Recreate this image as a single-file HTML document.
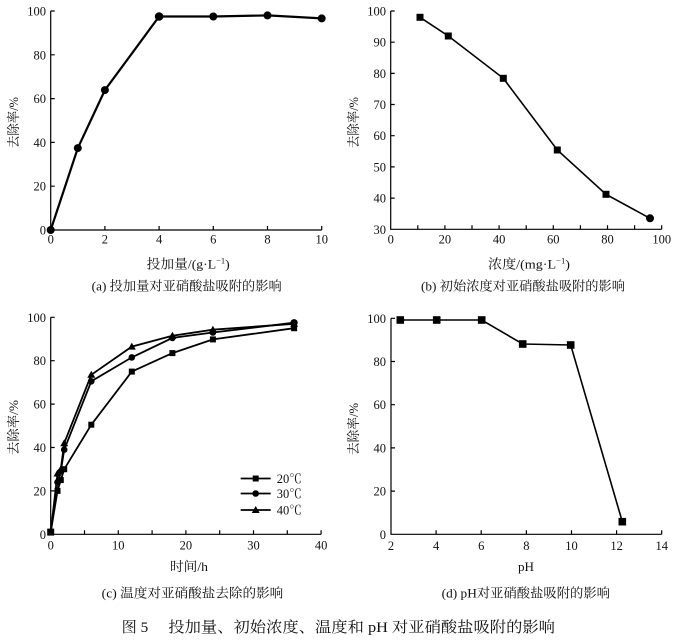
<!DOCTYPE html>
<html><head><meta charset="utf-8"><style>
html,body{margin:0;padding:0;background:#fff;}
svg{display:block;}
text{font-family:"Liberation Serif","Noto Serif CJK SC",serif;fill:#111;}
</style></head><body>
<svg width="683" height="641" viewBox="0 0 683 641" xmlns="http://www.w3.org/2000/svg">
<g stroke="#000" stroke-width="1.2" fill="none">
<!-- (a) axes -->
<path d="M50.7 11 V230 H321.7"/>
<path d="M50.7 186.2h4M50.7 142.4h4M50.7 98.6h4M50.7 54.8h4M50.7 11h4"/>
<path d="M104.9 230v-4M159.1 230v-4M213.3 230v-4M267.5 230v-4M321.7 230v-4"/>
<!-- (b) axes -->
<path d="M390.7 11 V229.3 H661.7"/>
<path d="M390.7 198.1h4M390.7 166.9h4M390.7 135.7h4M390.7 104.5h4M390.7 73.4h4M390.7 42.2h4M390.7 11h4"/>
<path d="M417.8 229.3v-4M444.9 229.3v-4M472 229.3v-4M499.1 229.3v-4M526.2 229.3v-4M553.3 229.3v-4M580.4 229.3v-4M607.5 229.3v-4M634.6 229.3v-4M661.7 229.3v-4"/>
<!-- (c) axes -->
<path d="M50.7 317.3 V534.3 H321.1"/>
<path d="M50.7 490.9h4M50.7 447.5h4M50.7 404.1h4M50.7 360.7h4M50.7 317.3h4"/>
<path d="M84.5 534.3v-4M118.3 534.3v-4M152.1 534.3v-4M185.9 534.3v-4M219.7 534.3v-4M253.5 534.3v-4M287.3 534.3v-4M321.1 534.3v-4"/>
<!-- (d) axes -->
<path d="M391 318.3 V534.3 H661.7"/>
<path d="M391 491.1h4M391 447.9h4M391 404.7h4M391 361.5h4M391 318.3h4"/>
<path d="M436.1 534.3v-4M481.2 534.3v-4M526.4 534.3v-4M571.5 534.3v-4M616.6 534.3v-4M661.7 534.3v-4"/>
</g>

<!-- (a) data -->
<polyline fill="none" stroke="#000" stroke-width="2.2" points="50.7,230 77.8,148.1 104.9,90.1 159.1,16.5 213.3,16.5 267.5,15.4 321.7,18.4"/>
<g fill="#000">
<circle cx="50.7" cy="230" r="4"/><circle cx="77.8" cy="148.1" r="4"/><circle cx="104.9" cy="90.1" r="4"/><circle cx="159.1" cy="16.5" r="4.3"/><circle cx="213.3" cy="16.5" r="4"/><circle cx="267.5" cy="15.4" r="4"/><circle cx="321.7" cy="18.4" r="4"/>
</g>

<!-- (b) data -->
<polyline fill="none" stroke="#000" stroke-width="1.6" points="420,17.3 448.3,36 503.3,78.3 557.3,150 606,194.3 650,218.3"/>
<g fill="#000">
<rect x="416.5" y="13.8" width="7" height="7"/><rect x="444.8" y="32.5" width="7" height="7"/><rect x="499.8" y="74.8" width="7" height="7"/><rect x="553.8" y="146.5" width="7" height="7"/><rect x="602.5" y="190.8" width="7" height="7"/><circle cx="650" cy="218.3" r="4"/>
</g>

<!-- (c) data -->
<g fill="none" stroke="#000" stroke-width="1.8">
<polyline points="50.7,532.1 57.5,490.9 60.8,480.1 64.2,469.2 91.3,424.7 131.8,371.6 172.4,353.1 212.9,339.4 294.1,328.2"/>
<polyline points="50.7,532.1 57.5,482.2 60.8,471.4 64.2,449.7 91.3,381.3 131.8,357.4 172.4,337.9 212.9,332.5 294.1,322.7"/>
<polyline points="50.7,532.1 57.5,473.5 60.8,469.2 64.2,443.2 91.3,374.8 131.8,346.6 172.4,335.7 212.9,329.7 294.1,323.8"/>
</g>
<g fill="#000">
<rect x="47.2" y="528.6" width="7" height="7"/>
<rect x="54.5" y="487.9" width="6" height="6"/><rect x="57.8" y="477.1" width="6" height="6"/><rect x="61.2" y="466.2" width="6" height="6"/><rect x="88.3" y="421.7" width="6" height="6"/><rect x="128.8" y="368.6" width="6" height="6"/><rect x="169.4" y="350.1" width="6" height="6"/><rect x="209.9" y="336.4" width="6" height="6"/><rect x="291.1" y="325.2" width="6" height="6"/>
<circle cx="57.5" cy="482.2" r="3.3"/><circle cx="60.8" cy="471.4" r="3.3"/><circle cx="64.2" cy="449.7" r="3.3"/><circle cx="91.3" cy="381.3" r="3.3"/><circle cx="131.8" cy="357.4" r="3.3"/><circle cx="172.4" cy="337.9" r="3.3"/><circle cx="212.9" cy="332.5" r="3.3"/><circle cx="294.1" cy="322.7" r="3.6"/>
<path d="M57.5 469.5l4 7h-8z"/><path d="M60.8 465.2l4 7h-8z"/><path d="M64.2 439.2l4 7h-8z"/><path d="M91.3 370.8l4 7h-8z"/><path d="M131.8 342.6l4 7h-8z"/><path d="M172.4 331.7l4 7h-8z"/><path d="M212.9 325.7l4 7h-8z"/><path d="M294.1 319.8l4 7h-8z"/>
</g>
<!-- legend -->
<g stroke="#000" stroke-width="1.8">
<line x1="240.7" y1="478.5" x2="270.7" y2="478.5"/>
<line x1="240.7" y1="493.5" x2="270.7" y2="493.5"/>
<line x1="240.7" y1="510" x2="270.7" y2="510"/>
</g>
<g fill="#000">
<rect x="252.7" y="475.5" width="6" height="6"/>
<circle cx="255.7" cy="493.5" r="3.3"/>
<path d="M255.7 506l4 7h-8z"/>
</g>
<g font-size="12.5">
<text x="276.7" y="483">20℃</text>
<text x="276.7" y="498">30℃</text>
<text x="276.7" y="514.5">40℃</text>
</g>

<!-- (d) data -->
<polyline fill="none" stroke="#000" stroke-width="1.6" points="400.3,320 436.7,320 481.7,320 522.7,344 570.7,345 622.3,521.7"/>
<g fill="#000">
<rect x="396.5" y="316.2" width="7.6" height="7.6"/><rect x="432.9" y="316.2" width="7.6" height="7.6"/><rect x="477.9" y="316.2" width="7.6" height="7.6"/><rect x="518.9" y="340.2" width="7.6" height="7.6"/><rect x="566.9" y="341.2" width="7.6" height="7.6"/><rect x="618.5" y="517.9" width="7.6" height="7.6"/>
</g>

<!-- tick labels -->
<g font-size="12.5" text-anchor="end">
<text x="46" y="234.5">0</text><text x="46" y="190.7">20</text><text x="46" y="146.9">40</text><text x="46" y="103.1">60</text><text x="46" y="59.3">80</text><text x="46" y="15.5">100</text>
<text x="386" y="233.8">30</text><text x="386" y="202.6">40</text><text x="386" y="171.4">50</text><text x="386" y="140.2">60</text><text x="386" y="109">70</text><text x="386" y="77.9">80</text><text x="386" y="46.7">90</text><text x="386" y="15.5">100</text>
<text x="46" y="538.8">0</text><text x="46" y="495.4">20</text><text x="46" y="452">40</text><text x="46" y="408.6">60</text><text x="46" y="365.2">80</text><text x="46" y="321.8">100</text>
<text x="386" y="538.8">0</text><text x="386" y="495.6">20</text><text x="386" y="452.4">40</text><text x="386" y="409.2">60</text><text x="386" y="366">80</text><text x="386" y="322.8">100</text>
</g>
<g font-size="12.5" text-anchor="middle">
<text x="50.7" y="243.5">0</text><text x="104.9" y="243.5">2</text><text x="159.1" y="243.5">4</text><text x="213.3" y="243.5">6</text><text x="267.5" y="243.5">8</text><text x="321.7" y="243.5">10</text>
<text x="390.7" y="243.5">0</text><text x="444.9" y="243.5">20</text><text x="499.1" y="243.5">40</text><text x="553.3" y="243.5">60</text><text x="607.5" y="243.5">80</text><text x="661.7" y="243.5">100</text>
<text x="50.7" y="549.5">0</text><text x="118.3" y="549.5">10</text><text x="185.9" y="549.5">20</text><text x="253.5" y="549.5">30</text><text x="321.1" y="549.5">40</text>
<text x="391" y="550">2</text><text x="436.1" y="550">4</text><text x="481.2" y="550">6</text><text x="526.4" y="550">8</text><text x="571.5" y="550">10</text><text x="616.6" y="550">12</text><text x="661.7" y="550">14</text>
</g>

<!-- axis titles -->
<g font-size="13">
<text x="146.7" y="268.5" textLength="83" lengthAdjust="spacingAndGlyphs">投加量/(g·L<tspan dy="-5" font-size="8">−1</tspan><tspan dy="5">)</tspan></text>
<text x="488" y="268.5" textLength="82" lengthAdjust="spacingAndGlyphs">浓度/(mg·L<tspan dy="-5" font-size="8">−1</tspan><tspan dy="5">)</tspan></text>
<text x="170" y="571" textLength="38" lengthAdjust="spacingAndGlyphs">时间/h</text>
<text x="518" y="571" textLength="16" lengthAdjust="spacingAndGlyphs">pH</text>
<text transform="translate(18,148) rotate(-90)" textLength="51" lengthAdjust="spacingAndGlyphs">去除率/%</text>
<text transform="translate(358,148) rotate(-90)" textLength="51" lengthAdjust="spacingAndGlyphs">去除率/%</text>
<text transform="translate(18,455) rotate(-90)" textLength="55" lengthAdjust="spacingAndGlyphs">去除率/%</text>
<text transform="translate(358,455) rotate(-90)" textLength="52" lengthAdjust="spacingAndGlyphs">去除率/%</text>
</g>

<!-- sub captions -->
<g font-size="13">
<text x="91.7" y="290.5" textLength="190" lengthAdjust="spacingAndGlyphs">(a) 投加量对亚硝酸盐吸附的影响</text>
<text x="421" y="290.5" textLength="204" lengthAdjust="spacingAndGlyphs">(b) 初始浓度对亚硝酸盐吸附的影响</text>
<text x="101.7" y="597.5" textLength="181.6" lengthAdjust="spacingAndGlyphs">(c) 温度对亚硝酸盐去除的影响</text>
<text x="441.7" y="597.5" textLength="168.3" lengthAdjust="spacingAndGlyphs">(d) pH对亚硝酸盐吸附的影响</text>
</g>

<!-- figure caption -->
<g font-size="15">
<text x="121.7" y="632" textLength="26.6" lengthAdjust="spacingAndGlyphs">图 5</text>
<text x="168.3" y="632" textLength="386.7" lengthAdjust="spacingAndGlyphs">投加量、初始浓度、温度和 pH 对亚硝酸盐吸附的影响</text>
</g>
</svg>
</body></html>
